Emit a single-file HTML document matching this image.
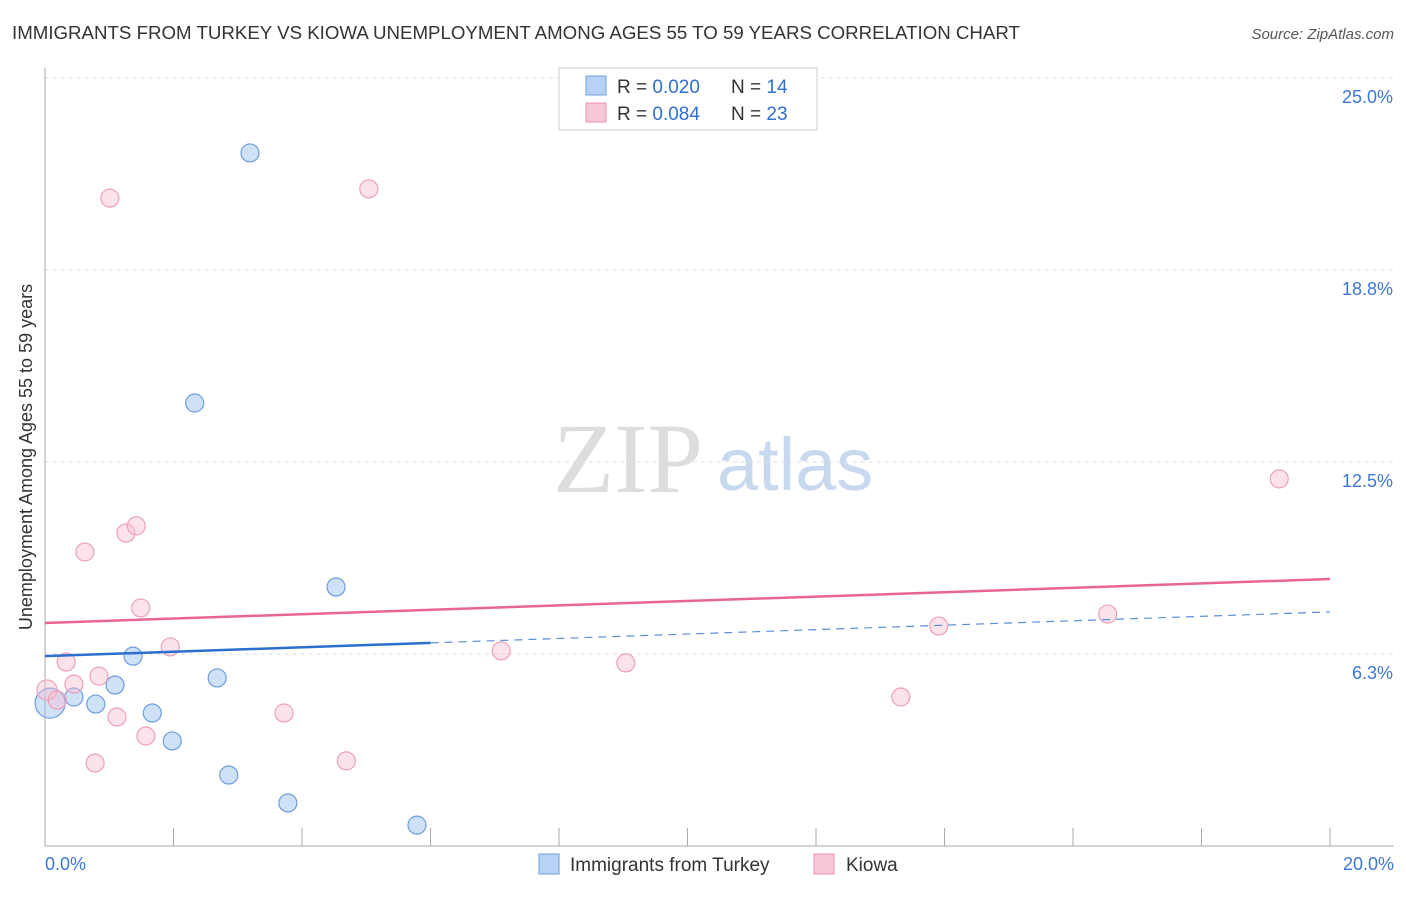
<!DOCTYPE html>
<html><head><meta charset="utf-8"><style>
body{margin:0;background:#fff;font-family:"Liberation Sans",sans-serif}
</style></head><body>
<svg id="c" width="1406" height="892" xmlns="http://www.w3.org/2000/svg">
<text x="12" y="39" font-size="18.7" fill="#333">IMMIGRANTS FROM TURKEY VS KIOWA UNEMPLOYMENT AMONG AGES 55 TO 59 YEARS CORRELATION CHART</text>
<text x="1394" y="39" font-size="15" fill="#555" font-style="italic" text-anchor="end">Source: ZipAtlas.com</text>
<text x="32" y="457" font-size="18" fill="#333" text-anchor="middle" transform="rotate(-90 32 457)">Unemployment Among Ages 55 to 59 years</text>
<text x="553" y="492" font-size="100" fill="#ddd" font-family="Liberation Serif">ZIP</text>
<text x="717" y="490" font-size="74" fill="#c8d9ef">atlas</text>
<g id="grid"></g><g id="axes"></g><g id="pts"></g><g id="lines"></g>
<g>
<rect x="559" y="68" width="258" height="62" fill="#fff" stroke="#ccc"/>
<rect x="586" y="76" width="20" height="19" fill="#b8d2f5" stroke="#6c9de0"/>
<rect x="586" y="103" width="20" height="19" fill="#f9c8d6" stroke="#e890aa"/>
<text x="617" y="93" font-size="19" fill="#333">R = <tspan fill="#2f6fd0">0.020</tspan></text>
<text x="731" y="93" font-size="19" fill="#333">N = <tspan fill="#2f6fd0">14</tspan></text>
<text x="617" y="120" font-size="19" fill="#333">R = <tspan fill="#2f6fd0">0.084</tspan></text>
<text x="731" y="120" font-size="19" fill="#333">N = <tspan fill="#2f6fd0">23</tspan></text>
</g>
<g>
<rect x="539" y="854" width="20" height="20" fill="#b8d2f5" stroke="#6c9de0"/>
<text x="570" y="871" font-size="19" fill="#333">Immigrants from Turkey</text>
<rect x="814" y="854" width="20" height="20" fill="#f9c8d6" stroke="#e890aa"/>
<text x="846" y="871" font-size="19" fill="#333">Kiowa</text>
</g>
</svg>
<script>
const yTicks=[25,18.75,12.5,6.25];
const yTickLabels=["25.0%","18.8%","12.5%","6.3%"];
const xTickVals=[0,2,4,6,8,10,12,14,16,18,20];
const turkeyX=[0.08,0.45,0.79,1.09,1.37,1.67,1.98,2.68,2.86,3.78,4.53,5.79,2.33,3.19];
const turkeyY=[4.65,4.85,4.62,5.24,6.18,4.33,3.42,5.47,2.31,1.40,8.43,0.68,14.42,22.56];
const turkeyR=[15,9,9,9,9,9,9,9,9,9,9,9,9,9];
const kiowaX=[0.03,0.19,0.33,0.45,0.62,0.78,0.84,1.01,1.12,1.26,1.42,1.49,1.57,1.95,3.72,4.69,5.04,7.10,9.04,13.32,13.91,16.54,19.21];
const kiowaY=[5.08,4.75,5.99,5.27,9.57,2.70,5.53,21.09,4.20,10.19,10.42,7.75,3.58,6.48,4.33,2.77,21.39,6.35,5.96,4.85,7.16,7.55,11.95];
const kiowaTrend=[7.26,8.69];
const turkeyTrend=[6.18,7.62];
const NS="http://www.w3.org/2000/svg";
const X=v=>45+v/20*1285, Y=v=>846-v*30.72;
function mk(p,t,a){const e=document.createElementNS(NS,t);for(const k in a)e.setAttribute(k,a[k]);document.getElementById(p).appendChild(e);return e;}
yTicks.forEach((v,i)=>{
 const l=mk('grid','line',{x1:45,x2:1394,y1:Y(v),y2:Y(v),stroke:'#ddd','stroke-dasharray':'4,4'});
 
 
 const t=mk('grid','text',{x:1393,y:Y(v)+25,'font-size':18,fill:'#3b78d8','text-anchor':'end'});
 t.textContent=yTickLabels[i];
 
 
});
let a=mk('axes','line',{x1:45,x2:45,y1:68,y2:846,stroke:'#aaa'});


a=mk('axes','line',{x1:45,x2:1394,y1:846,y2:846,stroke:'#aaa'});


xTickVals.forEach(v=>{if(v===0)return;const t=mk('axes','line',{x1:X(v),x2:X(v),y1:828,y2:846,stroke:'#aaa'});
 
 });
let t=mk('axes','text',{x:45,y:870,'font-size':18,fill:'#3b78d8'});t.textContent='0.0%';


t=mk('axes','text',{x:1394,y:870,'font-size':18,fill:'#3b78d8','text-anchor':'end'});t.textContent='20.0%';


turkeyX.forEach((x,i)=>{const c=mk('pts','circle',{cx:X(x),cy:Y(turkeyY[i]),r:turkeyR[i],fill:'rgba(160,195,240,0.5)',stroke:'#6c9de0','stroke-width':1.2});
 
 });
kiowaX.forEach((x,i)=>{const c=mk('pts','circle',{cx:X(x),cy:Y(kiowaY[i]),r:i===0?10:9,fill:'rgba(248,190,210,0.45)',stroke:'#eea0b8','stroke-width':1.2});
 
 });
let l=mk('lines','line',{x1:X(0),x2:X(20),y1:Y(kiowaTrend[0]),y2:Y(kiowaTrend[1]),stroke:'#e8658f','stroke-width':2.5});


const tm=turkeyTrend[0]+(turkeyTrend[1]-turkeyTrend[0])*0.3;
l=mk('lines','line',{x1:X(0),x2:X(6),y1:Y(turkeyTrend[0]),y2:Y(tm),stroke:'#2a6fd0','stroke-width':2.5});


l=mk('lines','line',{x1:X(6),x2:X(20),y1:Y(tm),y2:Y(turkeyTrend[1]),stroke:'#5a8fd8','stroke-width':1.2,'stroke-dasharray':'8,6'});


</script>
</body></html>
